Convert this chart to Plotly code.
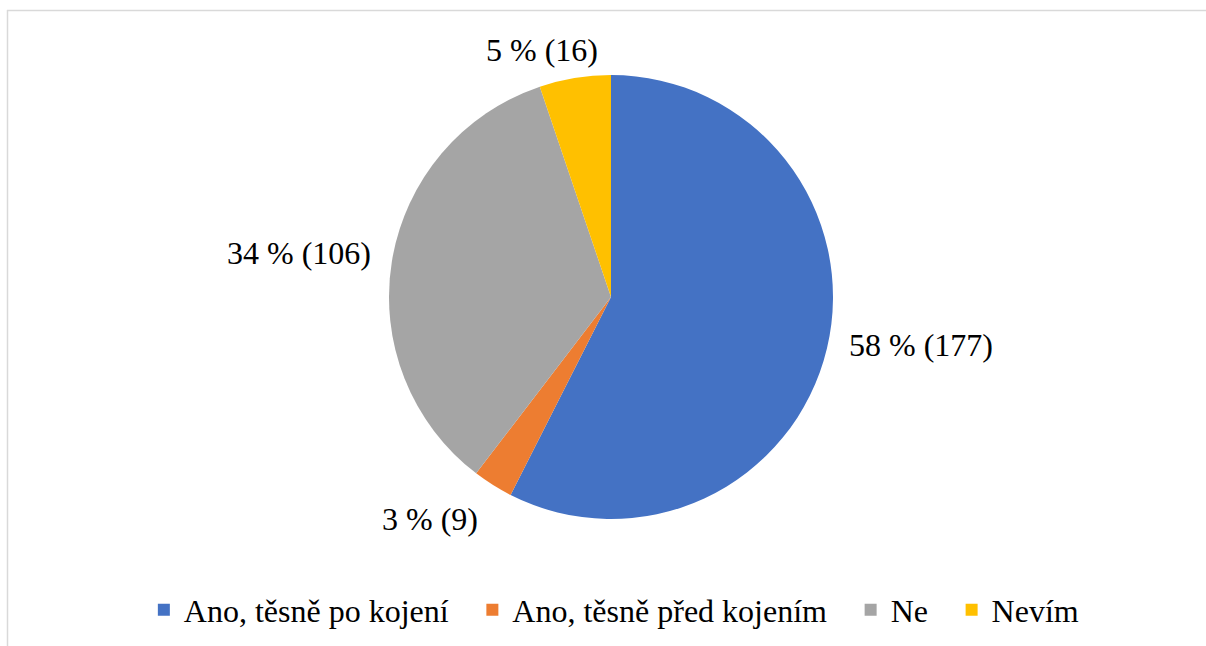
import plotly.graph_objects as go

categories = ["Ano, těsně po kojení", "Ano, těsně před kojením", "Ne", "Nevím"]
counts = [177, 9, 106, 16]
percents = [58, 3, 34, 5]
colors = ["#4472C4", "#ED7D31", "#A5A5A5", "#FFC000"]

W, H = 1206, 646
cx, cy, r = 611, 297, 222
FONT = "Liberation Serif, Times New Roman, serif"

labels_text = [f"{p} % ({c})" for p, c in zip(percents, counts)]
# data-label placement (pixel positions of label centres, layout only)
label_pos = [(921, 345), (430, 519), (299, 253), (542, 50)]

# extra spacing between legend entries
legend_names = [c + ("\u2002\u200a" if i < len(categories) - 1 else "") for i, c in enumerate(categories)]

fig = go.Figure(go.Pie(
    labels=legend_names,
    values=counts,
    textinfo="none",
    marker=dict(colors=colors, line=dict(width=0)),
    sort=False,
    direction="clockwise",
    rotation=0,
    domain=dict(x=[(cx - r) / W, (cx + r) / W], y=[1 - (cy + r) / H, 1 - (cy - r) / H]),
    showlegend=True,
    hovertemplate="%{label}: %{value} (%{percent})<extra></extra>",
))

annotations = [
    dict(x=px / W, y=1 - py / H, xref="paper", yref="paper", text=t, showarrow=False,
         xanchor="center", yanchor="middle",
         font=dict(family=FONT, size=32, color="#000000"))
    for t, (px, py) in zip(labels_text, label_pos)
]

fig.update_layout(
    width=W, height=H,
    margin=dict(l=0, r=0, t=0, b=0),
    paper_bgcolor="white",
    plot_bgcolor="white",
    font=dict(family=FONT, size=32, color="#000000"),
    legend=dict(
        orientation="h",
        x=0.509, xanchor="center",
        y=1 - 610 / H, yanchor="middle",
        font=dict(family=FONT, size=32, color="#000000"),
        itemwidth=30,
        traceorder="normal",
    ),
    annotations=annotations,
    shapes=[
        dict(type="line", xref="paper", yref="paper", x0=7 / W, x1=1, y0=1 - 10.5 / H, y1=1 - 10.5 / H,
             line=dict(color="#D9D9D9", width=1.5)),
        dict(type="line", xref="paper", yref="paper", x0=7.5 / W, x1=7.5 / W, y0=0, y1=1 - 10 / H,
             line=dict(color="#D9D9D9", width=1.5)),
    ],
)

fig.write_html("out.html", config={"displayModeBar": False},
               post_script="document.body.style.margin='0';")
